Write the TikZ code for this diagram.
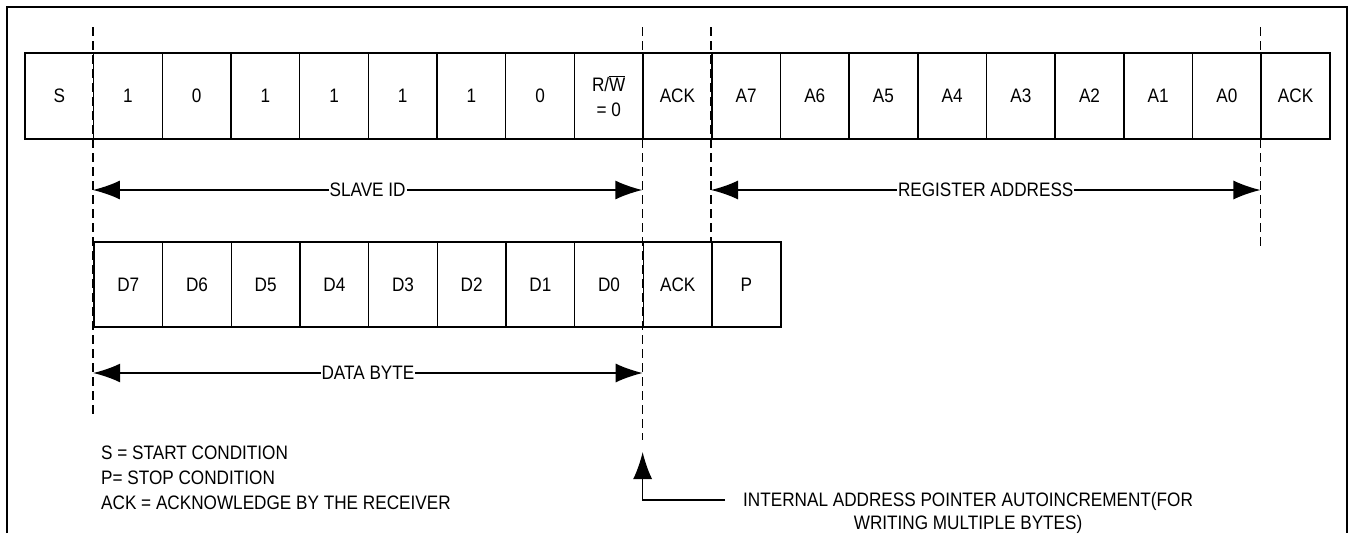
\documentclass[tikz,border=0pt]{standalone}
\usepackage{fontspec}
\setmainfont{Liberation Sans}[FakeStretch=0.88]
\usetikzlibrary{arrows.meta}

\tikzset{
  bitcell/.style={draw, line width=1.5pt, minimum width=68.7pt, minimum height=86pt, inner sep=0pt, align=center},
  guide/.style={line width=1.4pt, dash pattern=on 9pt off 5pt},
  span/.style={line width=1.4pt, {Latex[length=27pt,width=19pt]}-{Latex[length=27pt,width=19pt]}},
  pointer/.style={line width=1.4pt, -{Latex[length=27pt,width=19pt]}},
  spanlabel/.style={fill=white, inner xsep=1pt, inner ysep=0pt}
}

\begin{document}
\begin{tikzpicture}[x=1pt, y=-1pt, every node/.style={font=\fontsize{19.5}{25}\selectfont}]
  \useasboundingbox (0,0) rectangle (1351,533);
  % frame, open at the bottom
  \draw[line width=2.2pt] (7,533) -- (7,7) -- (1347,7) -- (1347,533);

  % first frame: start, slave id, ack, register address, ack
  \foreach \lbl [count=\i from 0] in {S,1,0,1,1,1,1,0,{R/$\overline{\mbox{W}}$\\= 0},ACK,A7,A6,A5,A4,A3,A2,A1,A0,ACK}
    \node[bitcell] (c\i) at (59.3+68.68*\i, 96) {\lbl};

  % second frame: data byte, ack, stop
  \foreach \lbl [count=\j from 0] in {D7,D6,D5,D4,D3,D2,D1,D0,ACK,P}
    \node[bitcell, minimum height=85pt] (d\j) at (128.3+68.68*\j, 284.5) {\lbl};

  % dashed guides
  \foreach \c/\btm in {c1/418, c9/440, c10/242, c18/250}
    \draw[guide] (\c.west |- 0,27) -- (\c.west |- 0,\btm);

  % spans
  \coordinate (idL) at (c1.west |- 0,190);
  \coordinate (idR) at (c9.west |- 0,190);
  \draw[span] (idL) -- node[spanlabel] (idlbl) {SLAVE ID} (idR);
  \coordinate (regL) at (c10.west |- 0,190);
  \coordinate (regR) at (c18.west |- 0,190);
  \draw[span] (regL) -- node[spanlabel] (reglbl) {REGISTER ADDRESS} (regR);
  \coordinate (dataL) at (d0.west |- 0,373);
  \coordinate (dataR) at (d8.west |- 0,373);
  \draw[span] (dataL) -- node[spanlabel] (datalbl) {DATA BYTE} (dataR);

  % autoincrement note
  \coordinate (tip) at (d8.west |- 0,452);
  \coordinate (lead) at (725,500);
  \draw[pointer] (lead) -| (tip);
  \node[anchor=north west, align=center, inner sep=0pt, font=\fontsize{19.5}{23}\selectfont] (incr) at (743,492)
    {INTERNAL ADDRESS POINTER AUTOINCREMENT(FOR\\WRITING MULTIPLE BYTES)};

  % legend
  \node[anchor=north west, align=left, inner sep=0pt] (legend) at (101,446)
    {S = START CONDITION\\P= STOP CONDITION\\ACK = ACKNOWLEDGE BY THE RECEIVER};
\end{tikzpicture}
\end{document}
